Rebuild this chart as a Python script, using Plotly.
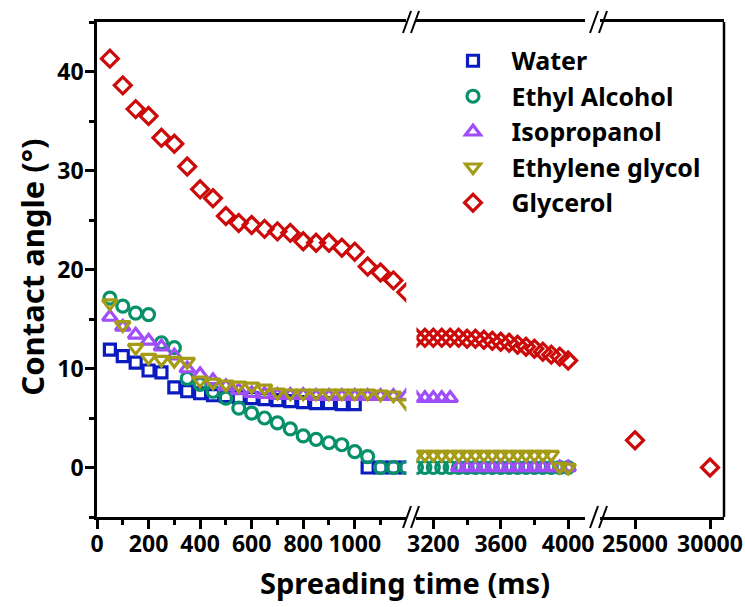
import plotly.graph_objects as go

# ---------------- data ----------------
series_names = ["Water", "Ethyl Alcohol", "Isopropanol", "Ethylene glycol", "Glycerol"]

t1 = [50, 100, 150, 200, 250, 300, 350, 400, 450, 500, 550, 600, 650, 700, 750, 800,
      850, 900, 950, 1000, 1050, 1100, 1150, 1200]
t2 = [3100, 3150, 3200, 3250, 3300, 3350, 3400, 3450, 3500, 3550, 3600, 3650, 3700,
      3750, 3800, 3850, 3900, 3950, 4000]
t3 = [25000, 30000]

water_t = t1
water_y = [11.9, 11.25, 10.6, 9.8, 9.6, 8.1, 7.7, 7.5, 7.3, 7.2, 7.1, 7.0, 6.9, 6.8, 6.7,
           6.6, 6.5, 6.5, 6.4, 6.4, 0.0, 0.0, 0.0, 0.0]

ethyl_t = t1 + t2
ethyl_y = [17.1, 16.3, 15.6, 15.45, 12.6, 12.1, 9.0, 8.4, 7.7, 7.0, 6.0, 5.5, 5.0, 4.5,
           3.9, 3.2, 2.85, 2.5, 2.3, 1.6, 1.1, 0.0, 0.0, 0.0] + [0.0] * 19

iso_t = t1 + t2
iso_y = [15.2, 14.2, 13.4, 12.8, 12.2, 11.3, 10.0, 9.4, 8.8, 8.2, 7.8, 7.5, 7.4, 7.3,
         7.3, 7.3, 7.2, 7.2, 7.2, 7.2, 7.2, 7.2, 7.2, 7.2] + \
        [7.0, 7.0, 7.0, 7.0, 7.0] + [0.0] * 14

eg_t = t1 + t2
eg_y = [16.6, 14.4, 12.1, 11.1, 10.9, 10.8, 10.7, 8.8, 8.6, 8.4, 8.3, 8.2, 8.0, 7.6,
        7.5, 7.5, 7.5, 7.5, 7.5, 7.5, 7.5, 7.4, 7.3, 6.5] + \
       [1.3] * 17 + [0.1, 0.0]

gly_t = t1 + t2 + t3
gly_y = [41.3, 38.6, 36.2, 35.5, 33.3, 32.7, 30.4, 28.1, 27.2, 25.4, 24.7, 24.5, 24.1,
         23.85, 23.7, 22.85, 22.7, 22.7, 22.2, 21.8, 20.3, 19.7, 18.9, 17.7] + \
        [13.1, 13.1, 13.1, 13.1, 13.1, 13.1, 13.0, 13.0, 12.9, 12.8, 12.7, 12.6, 12.4,
         12.2, 12.0, 11.7, 11.4, 11.2, 10.8] + [2.75, 0.0]

seg_ranges = [[0, 1200], [3100, 4100], [22667, 30933]]
seg_ticks = [[0, 200, 400, 600, 800, 1000], [3200, 3600, 4000], [25000, 30000]]
seg_ticktext = [["0", "200", "400", "600", "800", "1000"], ["3200", "3600", "4000"],
                ["25000", "30000"]]
seg_minor = [[100, 300, 500, 700, 900, 1100], [3400, 3800], []]

colors = ["#0A1CC0", "#07906A", "#A04DFA", "#A49B17", "#CC0A0A"]
symbols = ["square-open", "circle-open", "triangle-up-open", "triangle-down-open", "diamond-open"]
sizes = [11, 12, 13, 13, 13]

series = [(water_t, water_y), (ethyl_t, ethyl_y), (iso_t, iso_y), (eg_t, eg_y), (gly_t, gly_y)]
xnames = ["x", "x2", "x3"]

# ---------------- figure ----------------
fig = go.Figure()
for si, (ts, ys) in enumerate(series):
    for gi, rng in enumerate(seg_ranges):
        xs = [t for t in ts if rng[0] <= t <= rng[1]]
        yv = [y for t, y in zip(ts, ys) if rng[0] <= t <= rng[1]]
        if not xs and gi > 0:
            continue
        fig.add_trace(go.Scatter(
            x=xs, y=yv, mode="markers", name=series_names[si],
            xaxis=xnames[gi], yaxis="y", legendgroup=series_names[si], showlegend=(gi == 0),
            marker=dict(symbol=symbols[si], size=sizes[si], color=colors[si],
                        line=dict(width=3.2, color=colors[si])),
            cliponaxis=True,
        ))

W, H = 745, 607
AL, AR, AT, AB = 97, 724, 22, 517.5
L, R, T, B = AL, W - AR, AT, H - AB
pw = AR - AL
ph = AB - AT

def px_x(px):
    return (px - AL) / pw

def px_y(py):
    return (AB - py) / ph

domains = [[0, px_x(406.3)], [px_x(416.45), px_x(585)], [px_x(600), 1.0]]

FONT = "Noto Sans"
tickfont = dict(family=FONT, size=23, color="black", weight="bold")
minor_common = dict(ticks="outside", ticklen=5, tickwidth=2.5, tickcolor="black")
axis_common = dict(showline=True, linewidth=2.5, linecolor="black", mirror=True,
                   ticks="outside", ticklen=9, tickwidth=2.5, tickcolor="black",
                   showgrid=False, zeroline=False, tickfont=tickfont, anchor="y",
                   automargin=False, ticklabelstandoff=-4)

layout_axes = {}
for gi in range(3):
    key = "xaxis" if gi == 0 else "xaxis%d" % (gi + 1)
    ax = dict(domain=domains[gi], range=seg_ranges[gi], tickmode="array",
              tickvals=seg_ticks[gi], ticktext=seg_ticktext[gi], **axis_common)
    if seg_minor[gi]:
        ax["minor"] = dict(tickvals=seg_minor[gi], **minor_common)
    layout_axes[key] = ax

fig.update_layout(
    width=W, height=H, autosize=False,
    margin=dict(l=L, r=R, t=T, b=B, pad=0, autoexpand=False),
    plot_bgcolor="white", paper_bgcolor="white",
    showlegend=True,
    yaxis=dict(domain=[0, 1], range=[-5, 45], tickvals=[0, 10, 20, 30, 40],
               minor=dict(tickvals=[-5, 5, 15, 25, 35, 45], **minor_common),
               showline=True, linewidth=2.5, linecolor="black", mirror=False,
               ticks="outside", ticklen=9, tickwidth=2.5, tickcolor="black",
               ticklabelstandoff=-3, automargin=False,
               showgrid=False, zeroline=False, tickfont=tickfont, anchor="x"),
    legend=dict(x=px_x(434.5), y=px_y(38), xanchor="left", yanchor="top",
                bgcolor="rgba(0,0,0,0)", itemwidth=67, tracegroupgap=0,
                font=dict(family=FONT, size=25, color="black", weight="bold")),
    **layout_axes,
)

# right frame line
fig.add_shape(type="line", xref="paper", yref="paper", x0=1, x1=1, y0=0, y1=1,
              line=dict(color="black", width=2.5))

# break marks
for cx in [407, 415, 594, 603]:
    for ay in [AT, AB]:
        fig.add_shape(type="line", xref="paper", yref="paper",
                      x0=px_x(cx - 4), y0=px_y(ay + 11),
                      x1=px_x(cx + 4), y1=px_y(ay - 11),
                      line=dict(color="black", width=2))

# axis titles
fig.add_annotation(text="Spreading time (ms)", xref="paper", yref="paper",
                   x=px_x(405), y=px_y(583), showarrow=False,
                   xanchor="center", yanchor="middle",
                   font=dict(family=FONT, size=29, color="black", weight="bold"))
fig.add_annotation(text="Contact angle (°)", xref="paper", yref="paper",
                   x=px_x(32), y=px_y(268), showarrow=False, textangle=-90,
                   xanchor="center", yanchor="middle",
                   font=dict(family=FONT, size=31, color="black", weight="bold"))

# remove the browser's default 8px page margin so the 745x607 figure fills the window
fig.write_html("out.html", config={"displayModeBar": False},
               post_script="document.body.style.margin='0';document.body.style.overflow='hidden';")
